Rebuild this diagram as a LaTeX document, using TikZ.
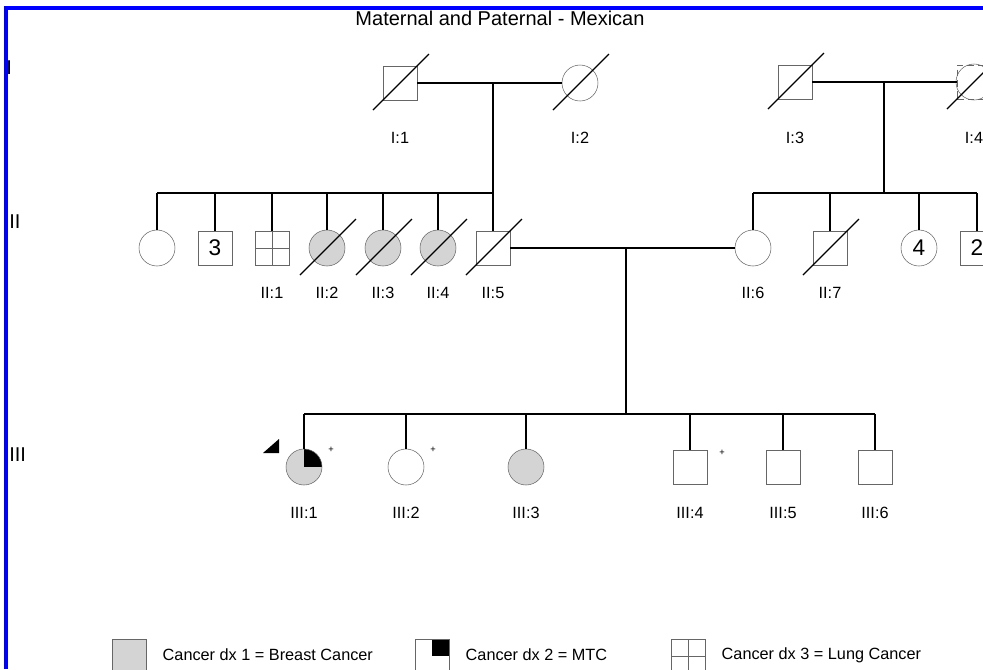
\documentclass[tikz,border=0pt]{standalone}
\usepackage{fontspec}
\setmainfont{Liberation Sans}
\definecolor{cancergray}{gray}{0.83}
\definecolor{outline}{gray}{0.4}
\begin{document}
\begin{tikzpicture}[x=0.75pt, y=-0.75pt, font=\fontsize{12.2}{14}\selectfont]
    \tikzset{male/.style={rectangle,draw=outline,fill=white,minimum size=25.5pt,inner sep=0pt},
      female/.style={circle,draw=outline,fill=white,minimum size=27pt,inner sep=0pt},
      breast/.style={fill=cancergray},
      mtc/.style={path picture={\fill[black] (path picture bounding box.center) rectangle (path picture bounding box.north east);}},
      lung/.style={path picture={\draw[outline] (path picture bounding box.north) -- (path picture bounding box.south)
          (path picture bounding box.west) -- (path picture bounding box.east);}},
      line/.style={draw=black,line width=0.9pt},
      slash/.style={draw=black,line width=1pt},
      count/.style={font=\fontsize{17}{17}\selectfont},
      gen/.style={anchor=west,inner sep=0pt,font=\fontsize{15}{15}\selectfont},
      plus/.style={font=\fontsize{7}{7}\selectfont,inner sep=0pt}}
    \clip (0,0) rectangle (983,669);
    
    % Title and generation numbers
    \node (title) at (500,18) {\fontsize{15}{18}\selectfont Maternal and Paternal - Mexican};
    \node[gen] (gen1) at (6,68) {I};
    \node[gen] (gen2) at (9,222) {II};
    \node[gen] (gen3) at (9,455) {III};
    
    % Generation I - two couples
    \node[male] (i1) at (400,83) {};
    \node[female] (i2) at (580,83) {};
    \node[male] (i3) at (795,82) {};
    \node[female] (i4) at (974,82) {};
    \node[rectangle,draw=outline,dash pattern=on 5pt off 3pt,minimum size=25.5pt] (i4sel) at (974,82) {};
    
    % Generation II
    \node[female] (ii0a) at (157,248) {};
    \node[male, count] (ii0b) at (215,248) {3};
    \node[male, lung] (ii1) at (272,248) {};
    \node[female, breast] (ii2) at (327,248) {};
    \node[female, breast] (ii3) at (383,248) {};
    \node[female, breast] (ii4) at (438,248) {};
    \node[male] (ii5) at (493,248) {};
    \node[female] (ii6) at (753,248) {};
    \node[male] (ii7) at (830,248) {};
    \node[female, count] (ii8) at (919,248) {4};
    \node[male, count] (ii9) at (977,248) {2};
    
    % Generation III
    \node[female, breast, mtc] (iii1) at (304,467) {};
    \node[female] (iii2) at (406,467) {};
    \node[female, breast] (iii3) at (526,467) {};
    \node[male] (iii4) at (690,467) {};
    \node[male] (iii5) at (783,467) {};
    \node[male] (iii6) at (875,467) {};
    
    % Marriage lines and descent
    \coordinate (m1) at (493,83);
    \coordinate (sib1) at (493,193);
    \coordinate (m2) at (884,82);
    \coordinate (sib2) at (884,193);
    \coordinate (m3) at (626,248);
    \coordinate (sib3) at (626,414);
    \draw[line] (i1.east) -- (i2.west);
    \draw[line] (i3.east) -- (i4sel.west);
    \draw[line] (ii5.east) -- (ii6.west);
    \draw[line] (m1) -- (sib1);
    \draw[line] (m2) -- (sib2);
    \draw[line] (m3) -- (sib3);
    
    % Sibship lines
    \draw[line] (ii0a.north |- sib1) -- (sib1);
    \draw[line] (ii6.north |- sib2) -- (ii9.north |- sib2);
    \draw[line] (iii1.center |- sib3) -- (iii6.north |- sib3);
    \foreach \n in {ii0a,ii0b,ii1,ii2,ii3,ii4,ii5}
      \draw[line] (\n.north) -- (\n.north |- sib1);
    \foreach \n in {ii6,ii7,ii8,ii9}
      \draw[line] (\n.north) -- (\n.north |- sib2);
    \foreach \n in {iii1,iii2,iii3,iii4,iii5,iii6}
      \draw[line] (\n.north) -- (\n.north |- sib3);
    
    % Deceased
    \foreach \n in {i1,i2,i3,i4,ii2,ii3,ii4,ii5,ii7}
      \draw[slash] ([shift={(-27,27)}]\n.center) -- ([shift={(29,-29)}]\n.center);
    
    % Proband and marks
    \fill (263,453) -- (279,453) -- (279,439) -- cycle;
    \node[plus] (p1) at (331,450) {+};
    \node[plus] (p2) at (433,450) {+};
    \node[plus] (p3) at (722,453) {+};
    
    % Individual labels
    \foreach \n/\t in {i1/I:1,i2/I:2,i3/I:3,i4/I:4}
      \node (\n-lab) at (\n |- 0,138) {\t};
    \foreach \n/\t in {ii1/II:1,ii2/II:2,ii3/II:3,ii4/II:4,ii5/II:5,ii6/II:6,ii7/II:7}
      \node (\n-lab) at (\n |- 0,293) {\t};
    \foreach \n/\t in {iii1/III:1,iii2/III:2,iii3/III:3,iii4/III:4,iii5/III:5,iii6/III:6}
      \node (\n-lab) at (\n |- 0,513) {\t};
    
    % Legend
    \node[male, breast] (key1) at (129,656) {};
    \node[male, mtc] (key2) at (432,656) {};
    \node[male, lung] (key3) at (688,656) {};
    \node[anchor=west] (key1-txt) at (158,655) {Cancer dx 1 = Breast Cancer};
    \node[anchor=west] (key2-txt) at (461,655) {Cancer dx 2 = MTC};
    \node[anchor=west] (key3-txt) at (717,655) {Cancer dx 3 = Lung Cancer};
    
    % Frame
    \draw[blue, line width=2.6pt] (6,669) -- (6,8) -- (983,8);
  \end{tikzpicture}
\end{document}
